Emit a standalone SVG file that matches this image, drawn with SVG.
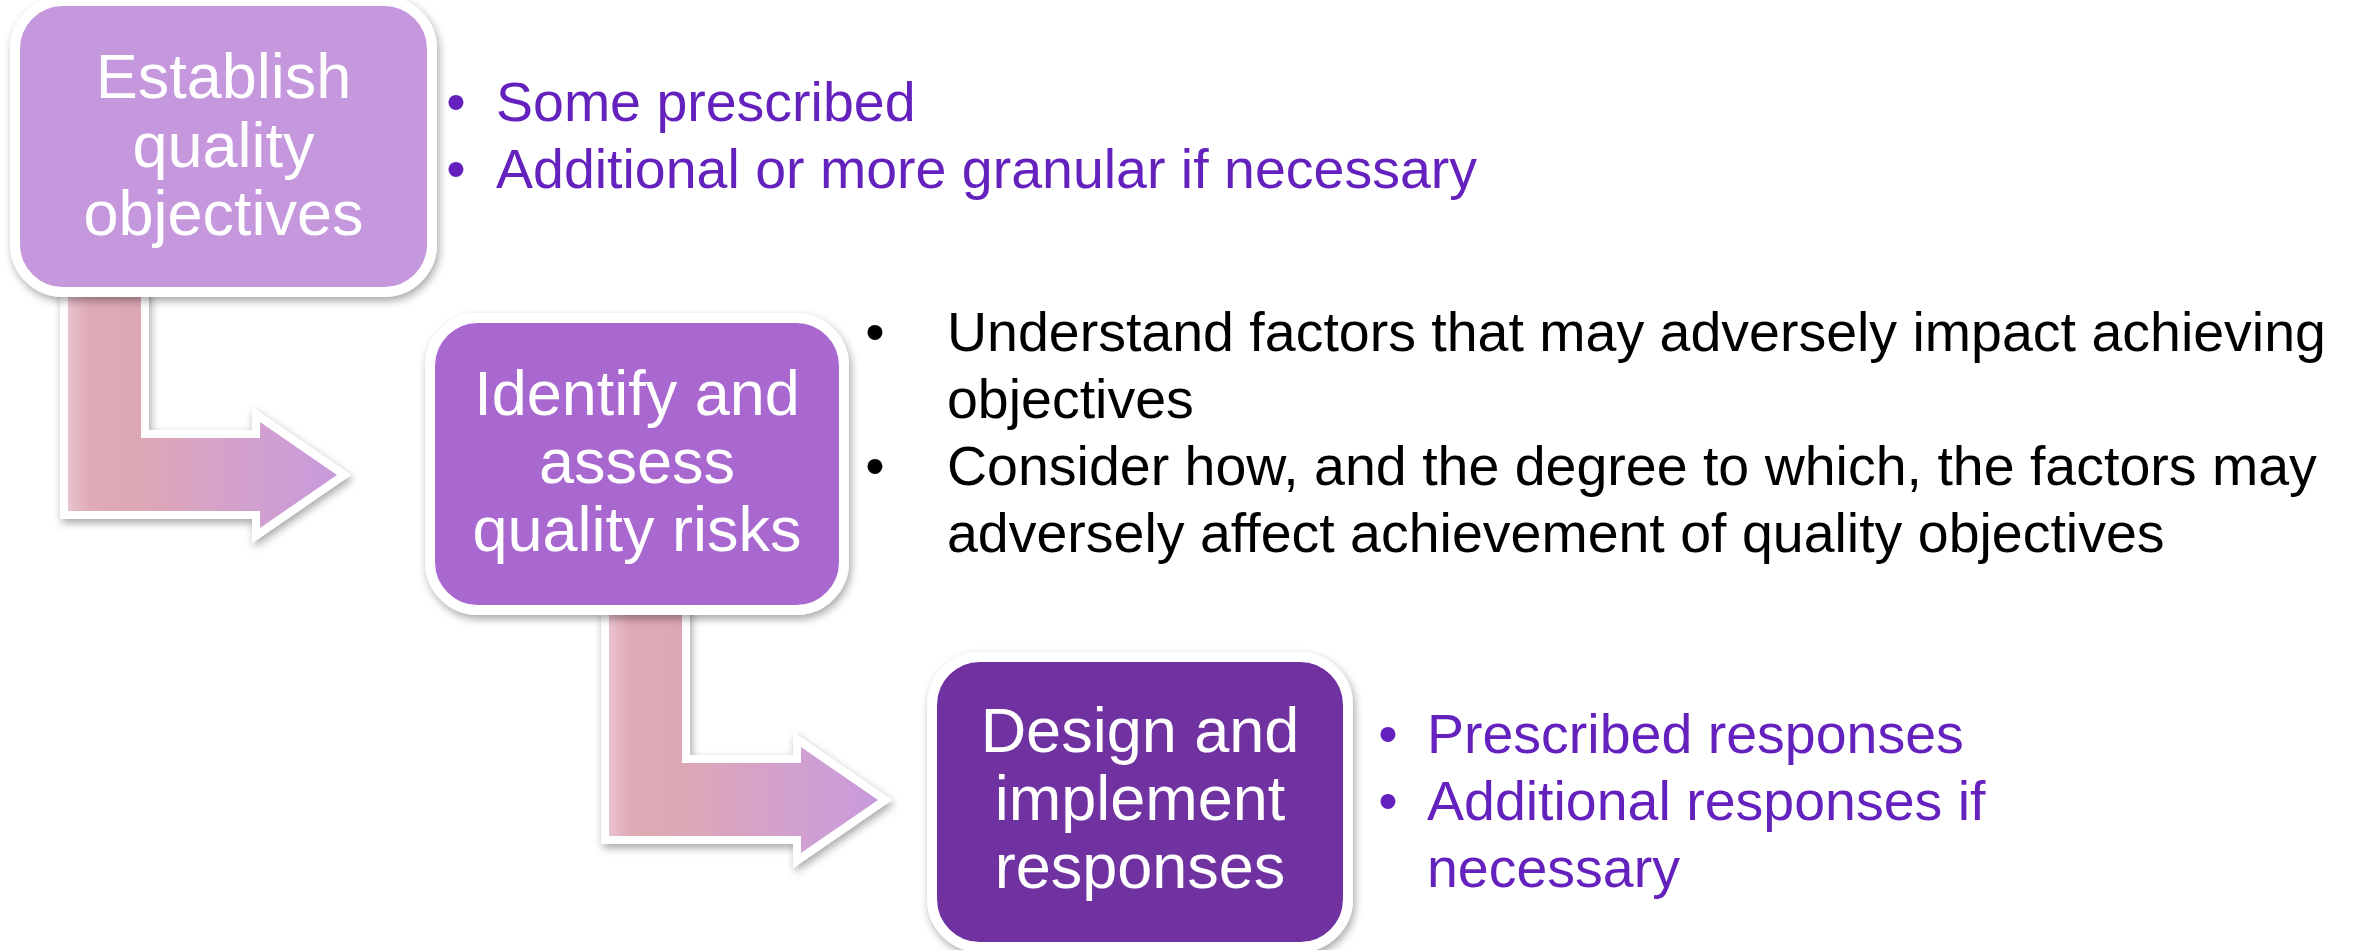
<svg xmlns="http://www.w3.org/2000/svg" width="2361" height="950" viewBox="0 0 2361 950">
  <style>
    .box-label { font-family: "Liberation Sans", Arial, sans-serif; font-size: 63px; fill: #FFFFFF; text-anchor: middle; }
    .bul { font-family: "Liberation Sans", Arial, sans-serif; font-size: 55.5px; }
    .purple { fill: #6421BD; }
    .black { fill: #000000; }
    .dot { text-anchor: middle; }
    .box { stroke: #FFFFFF; stroke-width: 10; filter: url(#shadow); }
  </style>
  <defs>
    <filter id="shadow" x="-10%" y="-10%" width="125%" height="125%">
      <feDropShadow dx="2" dy="4" stdDeviation="4" flood-color="#000000" flood-opacity="0.35"/>
    </filter>
    <linearGradient id="arrowGrad" x1="0" y1="0" x2="1" y2="0">
      <stop offset="0" stop-color="#E9C3CE"/>
      <stop offset="0.08" stop-color="#E0AAB6"/>
      <stop offset="0.27" stop-color="#DEA7B5"/>
      <stop offset="0.6" stop-color="#D4A1CA"/>
      <stop offset="1" stop-color="#C89ADC"/>
    </linearGradient>
    <path id="bentArrow" d="M68,282 L141,282 L141,438 L260,438 L260,422 L337,475 L260,528 L260,511 L68,511 Z"/>
  </defs>
  <rect x="0" y="0" width="2361" height="950" fill="#FFFFFF"/>

  <g id="connectors">
    <g id="arrow1">
      <use href="#bentArrow" fill="#FFFFFF" stroke="#FFFFFF" stroke-width="16" stroke-linejoin="miter" filter="url(#shadow)"/>
      <use href="#bentArrow" fill="url(#arrowGrad)"/>
    </g>
    <g id="arrow2" transform="translate(541,325)">
      <use href="#bentArrow" fill="#FFFFFF" stroke="#FFFFFF" stroke-width="16" stroke-linejoin="miter" filter="url(#shadow)"/>
      <use href="#bentArrow" fill="url(#arrowGrad)"/>
    </g>
  </g>

  <g id="node-establish">
    <rect class="box" x="15" y="1" width="417" height="291" rx="48" ry="48" fill="#C597DD"/>
    <text class="box-label" x="223.5" y="98">Establish</text>
    <text class="box-label" x="223.5" y="167">quality</text>
    <text class="box-label" x="223.5" y="235">objectives</text>
  </g>

  <g id="node-identify">
    <rect class="box" x="430" y="318" width="414" height="292" rx="48" ry="48" fill="#A868CF"/>
    <text class="box-label" x="637" y="415">Identify and</text>
    <text class="box-label" x="637" y="483">assess</text>
    <text class="box-label" x="637" y="551">quality risks</text>
  </g>

  <g id="node-design">
    <rect class="box" x="932" y="657" width="416" height="290" rx="48" ry="48" fill="#7030A0"/>
    <text class="box-label" x="1140" y="752">Design and</text>
    <text class="box-label" x="1140" y="820">implement</text>
    <text class="box-label" x="1140" y="888">responses</text>
  </g>

  <g id="notes-establish">
    <text class="bul purple dot" x="456" y="121">•</text>
    <text class="bul purple" x="496" y="121">Some prescribed</text>
    <text class="bul purple dot" x="456" y="188">•</text>
    <text class="bul purple" x="496" y="188">Additional or more granular if necessary</text>
  </g>

  <g id="notes-identify">
    <text class="bul black dot" x="875" y="351">•</text>
    <text class="bul black" x="947" y="351">Understand factors that may adversely impact achieving</text>
    <text class="bul black" x="947" y="418">objectives</text>
    <text class="bul black dot" x="875" y="485">•</text>
    <text class="bul black" x="947" y="485">Consider how, and the degree to which, the factors may</text>
    <text class="bul black" x="947" y="552">adversely affect achievement of quality objectives</text>
  </g>

  <g id="notes-design">
    <text class="bul purple dot" x="1388" y="753">•</text>
    <text class="bul purple" x="1427" y="753">Prescribed responses</text>
    <text class="bul purple dot" x="1388" y="820">•</text>
    <text class="bul purple" x="1427" y="820">Additional responses if</text>
    <text class="bul purple" x="1427" y="887">necessary</text>
  </g>
</svg>
